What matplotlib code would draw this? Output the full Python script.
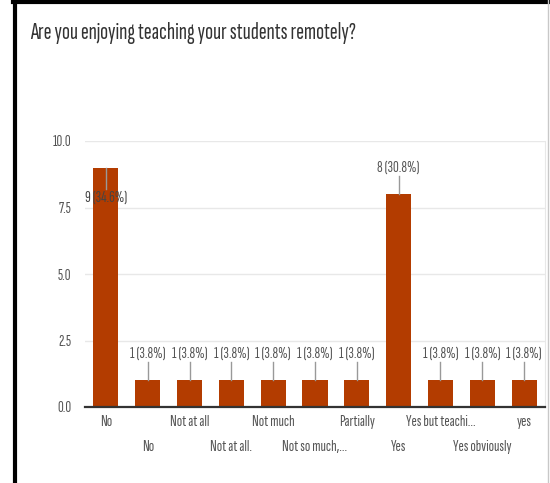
import matplotlib.pyplot as plt
from matplotlib.lines import Line2D
import numpy as np

answers = ['No', 'No', 'Not at all', 'Not at all.', 'Not much', 'Not so much,...',
           'Partially', 'Yes', 'Yes but teachi...', 'Yes obviously', 'yes']
counts = [9, 1, 1, 1, 1, 1, 1, 8, 1, 1, 1]
yticks = [0.0, 2.5, 5.0, 7.5, 10.0]

bar_color = '#b33c00'
text_color = '#555555'
plt.rcParams['font.family'] = ['Sofia Sans Extra Condensed', 'DejaVu Sans']
fs = 11.5

fig = plt.figure(figsize=(5.5, 4.83), dpi=100)
ax = fig.add_axes([85 / 550, 1 - 407 / 483, 460 / 550, 266 / 483])

total = sum(counts)
x = np.arange(len(answers))
ax.bar(x, counts, width=0.6, color=bar_color, zorder=3)

ax.set_xlim(-0.5, len(answers) - 0.5)
ax.set_ylim(0, 10)
ax.set_yticks(yticks)
ax.set_yticklabels([f'{t:.1f}' for t in yticks], color=text_color, fontsize=fs)
ax.yaxis.grid(True, color='#e8e8e8', lw=1, zorder=0)
ax.tick_params(axis='both', length=0)
ax.tick_params(axis='y', pad=10)

ax.set_xticks(x)
ax.set_xticklabels(answers, color=text_color, fontsize=fs)
for i, tick in enumerate(ax.xaxis.get_major_ticks()):
    tick.set_pad(6 if i % 2 == 0 else 24)

for s in ['top', 'left']:
    ax.spines[s].set_visible(False)
ax.spines['right'].set_color('#e8e8e8')
ax.spines['bottom'].set_color('#333333')
ax.spines['bottom'].set_linewidth(1.6)
ax.spines['bottom'].set_zorder(4)

# value labels with a short stem; labels for tall bars go inside the top
for xi, c in zip(x, counts):
    label = f'{c} ({c / total * 100:.1f}%)'
    if c >= 9:
        ax.plot([xi, xi], [c, c - 0.8], color='#999999', lw=1, zorder=4)
        ax.text(xi, c - 1.12, label, ha='center', va='center',
                color='#444444', fontsize=fs, zorder=5)
    else:
        ax.plot([xi, xi], [c, c + 0.68], color='#999999', lw=1, zorder=4)
        ax.text(xi, c + 1.0, label, ha='center', va='center',
                color=text_color, fontsize=fs, zorder=5)

fig.text(30 / 550, 1 - 33 / 483, 'Are you enjoying teaching your students remotely?',
         ha='left', va='center', fontsize=17, color='#333333')

# card frame
fig.add_artist(Line2D([15 / 550, 15 / 550], [0, 1], color='black', lw=3))
fig.add_artist(Line2D([13 / 550, 1], [1 - 1.5 / 483, 1 - 1.5 / 483], color='black', lw=3))
fig.add_artist(Line2D([548 / 550, 548 / 550], [0, 1], color='#c8c8c8', lw=1))

fig.savefig('out.png', dpi=100)
